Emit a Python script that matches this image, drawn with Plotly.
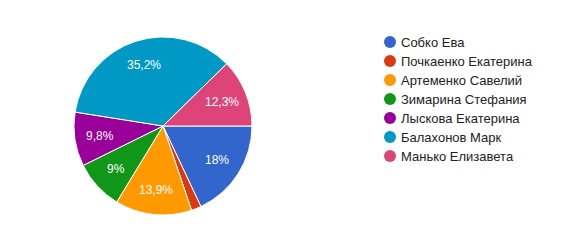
import math
import plotly.graph_objects as go

names = ["Собко Ева", "Почкаенко Екатерина", "Артеменко Савелий", "Зимарина Стефания",
         "Лыскова Екатерина", "Балахонов Марк", "Манько Елизавета"]
values = [18, 1.8, 13.9, 9, 9.8, 35.2, 12.3]
labels_txt = ["18%", "", "13,9%", "9%", "9,8%", "35,2%", "12,3%"]
colors = ["#3366cc", "#dc3912", "#ff9900", "#109618", "#990099", "#0099c6", "#dd4477"]

W, H = 575, 243
CX, CY, R = 163, 126, 89
fig = go.Figure()
fig.add_trace(go.Pie(
    labels=names, values=values, textinfo="none",
    sort=False, direction="clockwise", rotation=90,
    marker=dict(colors=colors, line=dict(color="white", width=1)),
    showlegend=False, hoverinfo="label+percent",
    domain=dict(x=[(CX - R) / W, (CX + R) / W], y=[1 - (CY + R) / H, 1 - (CY - R) / H]),
))

# slice labels placed along each slice's mid-angle (as in the original chart)
total = sum(values)
start = 90.0
for v, t in zip(values, labels_txt):
    span = 360.0 * v / total
    mid = math.radians(start + span / 2)
    start += span
    if not t:
        continue
    px = CX + 0.72 * R * math.sin(mid)
    py = CY - 0.72 * R * math.cos(mid)
    fig.add_annotation(x=px / W, y=1 - py / H, xref="paper", yref="paper",
                       text=t, showarrow=False, xanchor="center", yanchor="middle",
                       font=dict(size=12, color="white", family="Arial, Liberation Sans"))

# custom legend (circle swatches + labels)
leg_x, leg_y0, leg_dy, r = 390, 42, 19, 6
for i, (n, c) in enumerate(zip(names, colors)):
    cy = leg_y0 + i * leg_dy
    fig.add_shape(type="circle", xref="paper", yref="paper",
                  x0=(leg_x - r) / W, x1=(leg_x + r) / W,
                  y0=1 - (cy + r) / H, y1=1 - (cy - r) / H,
                  fillcolor=c, line=dict(width=0))
    fig.add_annotation(x=(leg_x + 9) / W, y=1 - cy / H, xref="paper", yref="paper",
                       text=n, showarrow=False, xanchor="left", yanchor="middle",
                       font=dict(size=13, color="#222222", family="Arial, Liberation Sans"))

fig.update_layout(
    width=W, height=H, margin=dict(l=0, r=0, t=0, b=0),
    paper_bgcolor="white", plot_bgcolor="white", showlegend=False,
    font=dict(family="Arial, Liberation Sans", size=12, color="#222222"),
)
fig.write_html("out.html")
